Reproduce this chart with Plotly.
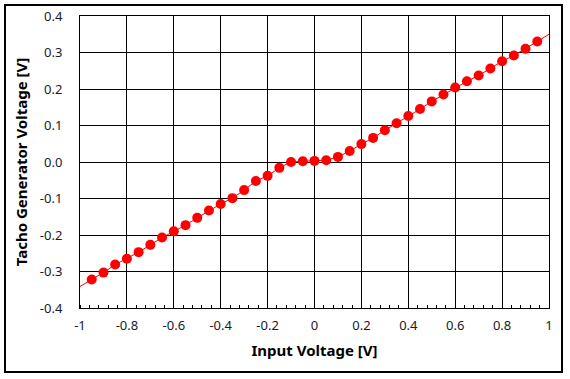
import plotly.graph_objects as go

# Data
input_voltage = [-0.95, -0.90, -0.85, -0.80, -0.75, -0.70, -0.65, -0.60, -0.55, -0.50,
                 -0.45, -0.40, -0.35, -0.30, -0.25, -0.20, -0.15, -0.10, -0.05, 0.00,
                 0.05, 0.10, 0.15, 0.20, 0.25, 0.30, 0.35, 0.40, 0.45, 0.50,
                 0.55, 0.60, 0.65, 0.70, 0.75, 0.80, 0.85, 0.90, 0.95]
tacho_voltage = [-0.322, -0.303, -0.281, -0.265, -0.247, -0.227, -0.207, -0.190, -0.173, -0.153,
                 -0.133, -0.115, -0.099, -0.077, -0.052, -0.038, -0.016, 0.000, 0.002, 0.003,
                 0.005, 0.014, 0.030, 0.049, 0.066, 0.087, 0.106, 0.126, 0.145, 0.166,
                 0.185, 0.204, 0.221, 0.237, 0.256, 0.276, 0.292, 0.310, 0.330]

# Trend-line extension ends (x positions)
trend_x_ends = [-1.025, 1.02]

x_tick_vals = [-1, -0.8, -0.6, -0.4, -0.2, 0, 0.2, 0.4, 0.6, 0.8, 1]
x_tick_text = ["-1", "-0.8", "-0.6", "-0.4", "-0.2", "0", "0.2", "0.4", "0.6", "0.8", "1"]
y_tick_vals = [-0.4, -0.3, -0.2, -0.1, 0, 0.1, 0.2, 0.3, 0.4]
y_tick_text = ["-0.4", "-0.3", "-0.2", "-0.1", "0.0", "0.1", "0.2", "0.3", "0.4"]


def extrap(x0, y0, x1, y1, x):
    return y0 + (y1 - y0) * (x - x0) / (x1 - x0)


line_x = [trend_x_ends[0]] + input_voltage + [trend_x_ends[1]]
line_y = ([extrap(input_voltage[0], tacho_voltage[0], input_voltage[1], tacho_voltage[1], trend_x_ends[0])]
          + tacho_voltage
          + [extrap(input_voltage[-2], tacho_voltage[-2], input_voltage[-1], tacho_voltage[-1], trend_x_ends[1])])

fig = go.Figure()
fig.add_trace(go.Scatter(x=line_x, y=line_y, mode="lines",
                         line=dict(color="#FF0000", width=1), cliponaxis=False,
                         hoverinfo="skip", showlegend=False))
fig.add_trace(go.Scatter(x=input_voltage, y=tacho_voltage, mode="markers",
                         marker=dict(color="#FF0000", size=10, line=dict(width=0)),
                         cliponaxis=False, showlegend=False))

font_family = "Noto Sans, Malgun Gothic, sans-serif"

fig.update_layout(
    width=570, height=379,
    margin=dict(l=80, r=21, t=16, b=71, autoexpand=False),
    paper_bgcolor="white", plot_bgcolor="white",
    font=dict(family=font_family, size=13, color="#1a1a2a"),
    showlegend=False,
    xaxis=dict(
        range=[-1, 1], tickvals=x_tick_vals, ticktext=x_tick_text,
        showgrid=True, gridcolor="black", gridwidth=1,
        showline=True, linecolor="black", linewidth=1, mirror=True,
        zeroline=False, ticks="", ticklabelstandoff=5, automargin=False,
        minor=dict(ticks="inside", dtick=0.04, tick0=0, ticklen=3,
                   tickcolor="black", tickwidth=1, showgrid=False),
        title=dict(text="<b>Input Voltage [V]</b>", standoff=12,
                   font=dict(size=15, color="black", family=font_family)),
        tickfont=dict(size=13),
    ),
    yaxis=dict(
        range=[-0.4, 0.4], tickvals=y_tick_vals, ticktext=y_tick_text,
        showgrid=True, gridcolor="black", gridwidth=1,
        showline=True, linecolor="black", linewidth=1, mirror=True,
        zeroline=False, ticks="", ticklabelstandoff=14, automargin=False,
        title=dict(text="<b>Tacho Generator Voltage [V]</b>", standoff=8,
                   font=dict(size=15, color="black", family=font_family)),
        tickfont=dict(size=13),
    ),
    shapes=[dict(type="rect", xref="paper", yref="paper",
                 x0=(5 - 80) / 469, x1=(562 - 80) / 469,
                 y0=-(372 - 308) / 292, y1=1 + (16 - 5) / 292,
                 line=dict(color="black", width=2), fillcolor="rgba(0,0,0,0)",
                 layer="below")],
)

fig.write_html("out.html", post_script="document.body.style.margin='0';",
               config={"displayModeBar": False})
